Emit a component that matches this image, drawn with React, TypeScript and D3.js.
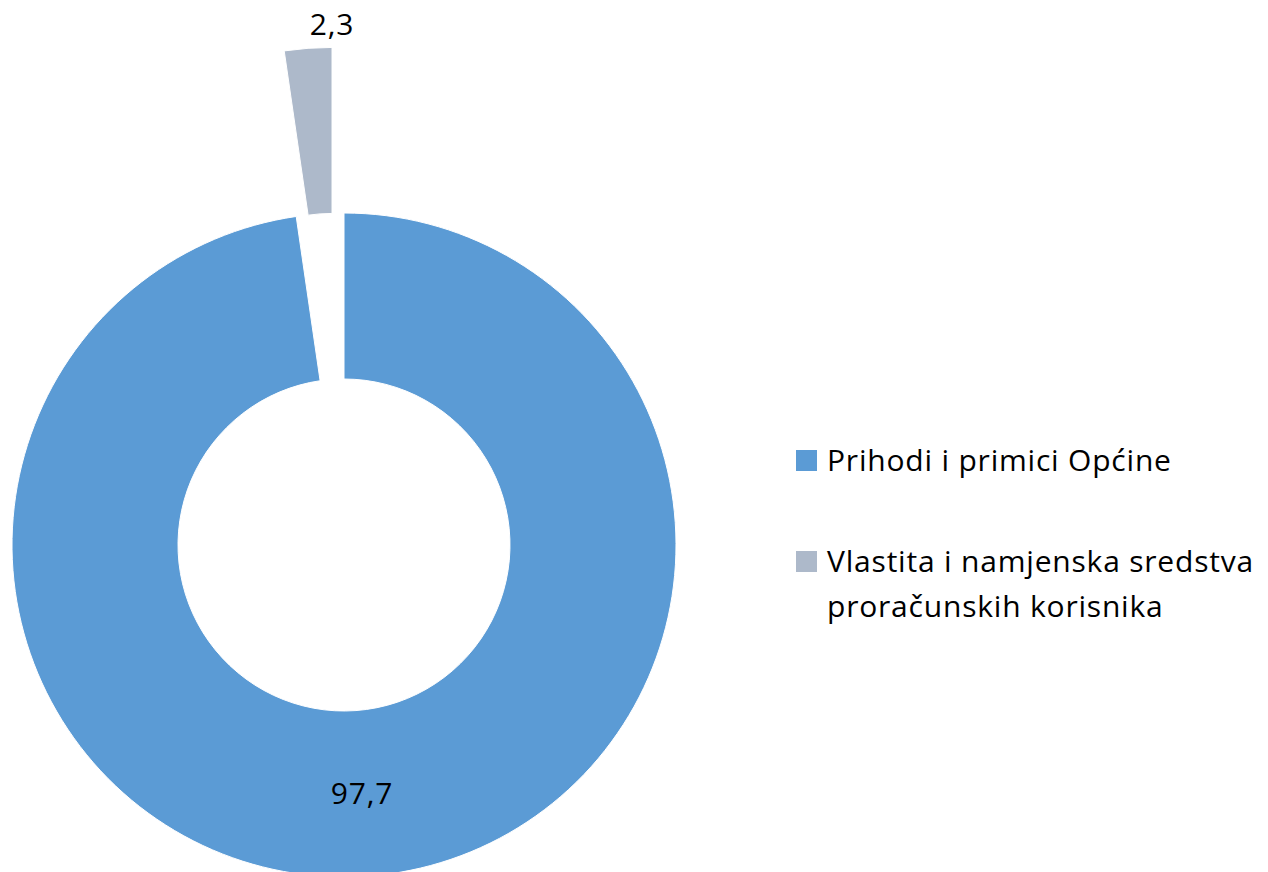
import React from "react";
import * as d3 from "d3";

const categories = ["Prihodi i primici Općine", "Vlastita i namjenska sredstva proračunskih korisnika"];
const legendLines = [["Prihodi i primici Općine"], ["Vlastita i namjenska sredstva", "proračunskih korisnika"]];
const values = [97.7, 2.3];
const valueLabels = ["97,7", "2,3"];
const colors = ["#5B9BD5", "#ADB9CA"];

const W = 1268;
const H = 872;
const FONT = "'Open Sans', sans-serif";
const FS = 30;
const LS = 0.8;

export default function App() {
  const cx = 344;
  const cy = 545;
  const outerR = 332;
  const innerR = 166;
  const explode = [0, 166];

  const pie = d3
    .pie<number>()
    .sort(null)
    .startAngle(0)
    .endAngle(2 * Math.PI)(values);

  const arc = d3.arc<d3.PieArcDatum<number>>().innerRadius(innerR).outerRadius(outerR);

  return (
    <svg
      width={W}
      height={H}
      style={{ position: "absolute", left: 0, top: 0, background: "#fff" }}
      fontFamily={FONT}
    >
      <g transform={`translate(${cx},${cy})`}>
        {pie.map((d, i) => {
          const mid = (d.startAngle + d.endAngle) / 2;
          const off = explode[i];
          const dx = off * Math.sin(mid);
          const dy = -off * Math.cos(mid);
          return (
            <path
              key={i}
              d={arc(d) || ""}
              transform={`translate(${dx},${dy})`}
              fill={colors[i]}
              stroke="#fff"
              strokeWidth={1}
            />
          );
        })}
        {pie.map((d, i) => {
          const mid = (d.startAngle + d.endAngle) / 2;
          if (i === 0) {
            const r = (innerR + outerR) / 2;
            const x = r * Math.sin(mid);
            const y = -r * Math.cos(mid);
            return (
              <text key={i} x={x} y={y + 11} textAnchor="middle" fontSize={FS} letterSpacing={LS} fill="#000">
                {valueLabels[i]}
              </text>
            );
          }
          const off = explode[i];
          const r = outerR + off;
          const x = off * Math.sin(mid);
          const y = -(r * Math.cos(mid)) - 13;
          return (
            <text key={i} x={x} y={y} textAnchor="middle" fontSize={FS} letterSpacing={LS} fill="#000">
              {valueLabels[i]}
            </text>
          );
        })}
      </g>
      {categories.map((c, i) => {
        const top = [450, 551][i];
        return (
          <g key={c}>
            <rect x={796} y={top} width={21} height={21} fill={colors[i]} />
            {legendLines[i].map((line, j) => (
              <text key={j} x={827} y={top + 21 + j * 45} fontSize={FS} letterSpacing={LS} fill="#000">
                {line}
              </text>
            ))}
          </g>
        );
      })}
    </svg>
  );
}
